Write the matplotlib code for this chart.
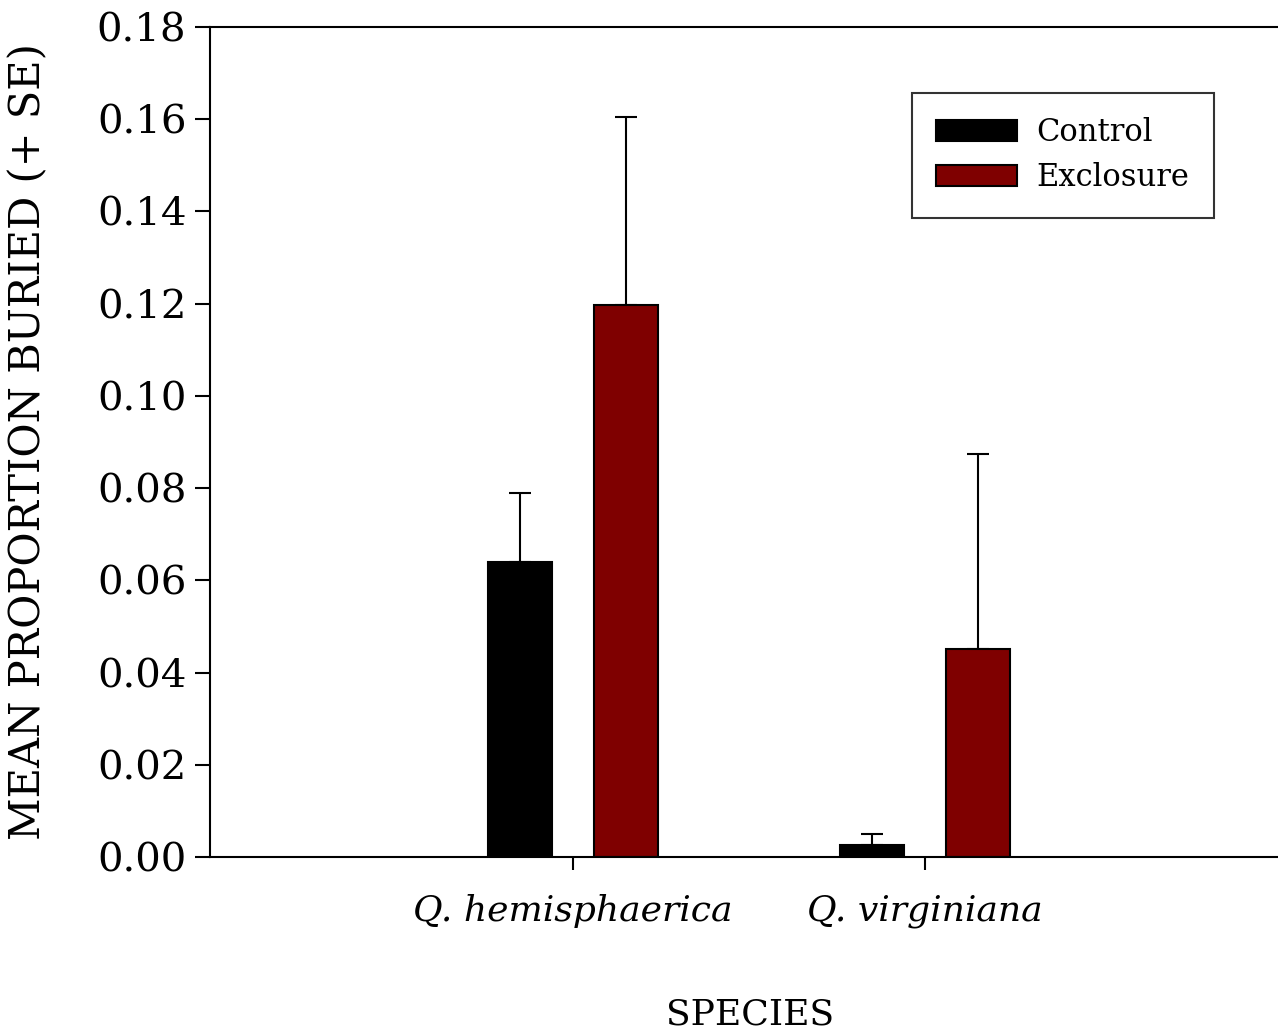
import matplotlib
matplotlib.use('Agg')
import matplotlib.pyplot as plt
import numpy as np

# values
species = ['Q. hemisphaerica', 'Q. virginiana']
treatments = ['Control', 'Exclosure']
control_mean = [0.064, 0.0025]
control_se = [0.015, 0.0025]
exclosure_mean = [0.1197, 0.0451]
exclosure_se = [0.0408, 0.0423]
yticks = [0.00, 0.02, 0.04, 0.06, 0.08, 0.10, 0.12, 0.14, 0.16, 0.18]

plt.rcParams['font.family'] = ['DejaVu Serif']

fig = plt.figure(figsize=(12.78, 10.30), dpi=100)
# axes run a little past the right edge of the picture, like the original
ax = fig.add_axes([210 / 1278, 1 - 857 / 1030, 1080 / 1278, 830 / 1030])

x = np.arange(len(species))
w = 0.182
off = 0.15
ax.bar(x - off, control_mean, w, color='black', edgecolor='black', linewidth=1.5,
       label=treatments[0], zorder=2)
ax.bar(x + off, exclosure_mean, w, color='#7f0000', edgecolor='black', linewidth=1.5,
       label=treatments[1], zorder=2)

# only the upper half of the error bars
ax.errorbar(x - off, control_mean, yerr=[np.zeros(2), control_se], fmt='none',
            ecolor='black', elinewidth=1.5, capsize=8, capthick=1.5, zorder=1)
ax.errorbar(x + off, exclosure_mean, yerr=[np.zeros(2), exclosure_se], fmt='none',
            ecolor='black', elinewidth=1.5, capsize=8, capthick=1.5, zorder=1)

ax.set_xlim(-1.031, 2.037)
ax.set_ylim(0, 0.18)
ax.set_yticks(yticks)
ax.set_yticklabels(['%.2f' % v for v in yticks], fontsize=29)
ax.set_xticks(x)
ax.set_xticklabels(species, fontsize=26, style='italic')
ax.tick_params(axis='y', direction='out', length=11, width=1.5, pad=6)
ax.tick_params(axis='x', direction='out', length=9, width=1.5, pad=18)
for s in ax.spines.values():
    s.set_linewidth(1.5)

ax.set_ylabel('MEAN PROPORTION BURIED (+ SE)', fontsize=30, labelpad=34)
ax.set_xlabel('SPECIES', fontsize=26, labelpad=50)

leg = ax.legend(loc='upper left', bbox_to_anchor=((912 - 210) / 1080, (857 - 93) / 830),
                fontsize=22, frameon=True, fancybox=False, edgecolor='black',
                handlelength=2.65, handleheight=0.69, borderpad=0.8, labelspacing=0.45,
                handletextpad=0.62, borderaxespad=0)
leg.get_frame().set_linewidth(1.5)

fig.savefig('out.png', dpi=100)
